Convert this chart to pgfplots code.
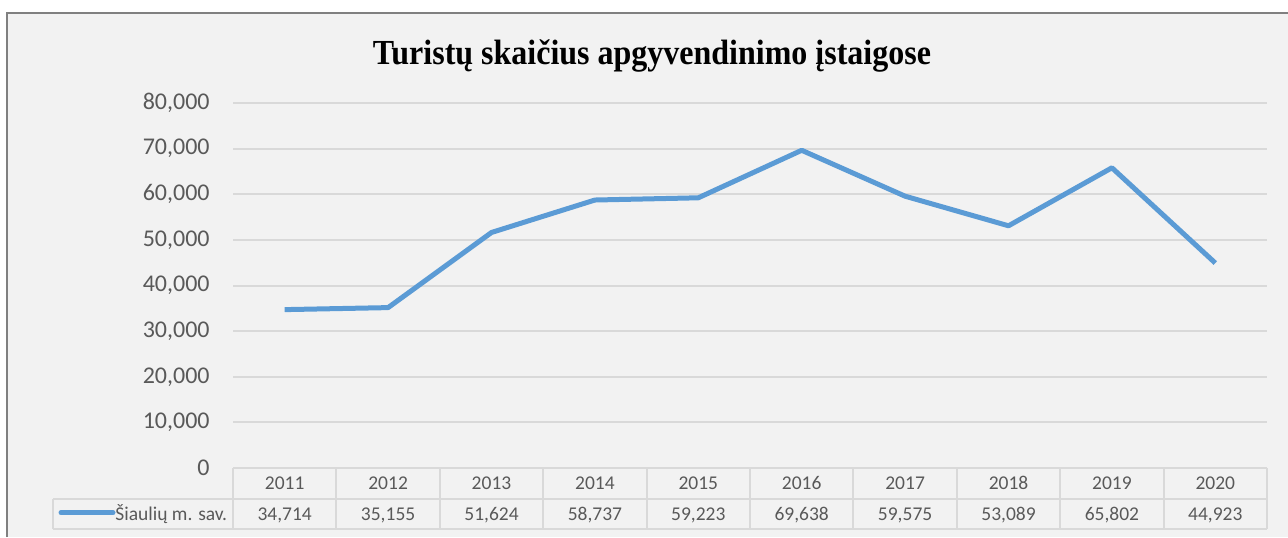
\documentclass[border=0pt]{standalone}
\usepackage{pgfplots}
\pgfplotsset{compat=1.18}
\usepackage{fontspec}
\setmainfont{Carlito}
\newfontfamily\titlefont{Liberation Serif}
\definecolor{bg}{HTML}{F2F2F2}
\definecolor{gridc}{HTML}{D9D9D9}
\definecolor{txt}{HTML}{595959}
\definecolor{series}{HTML}{5B9BD5}

\begin{document}
\begin{tikzpicture}[x=1pt,y=1pt]
\path[use as bounding box] (0,0) rectangle (644,268.5);
\fill[bg] (3.5,0) rectangle (644,261.75);
\draw[line width=1pt, color=black!50] (3.5,0) -- (3.5,261.75) -- (644,261.75);
% title
\node[font=\titlefont\bfseries\fontsize{16}{19}\selectfont, text=black, yscale=1.1] at (326,240.5) {Turistų skaičius apgyvendinimo įstaigose};
\begin{axis}[
    at={(116.5pt,34.5pt)}, anchor=south west,
    scale only axis, width=517pt, height=182.5pt,
    xmin=0, xmax=10, ymin=0, ymax=80000,
    axis line style={draw=none},
    tick style={draw=none},
    ytick={0,10000,...,80000},
    ymajorgrids,
    grid style={gridc, line width=1pt},
    scaled y ticks=false,
    /pgf/number format/.cd, 1000 sep={,}, assume math mode=true,
    /pgfplots/.cd,
    yticklabel style={font=\fontsize{12}{14}\selectfont, text=txt, inner sep=0pt, anchor=east, xshift=-11.5pt},
    xtick={0.5,1.5,...,9.5},
    xticklabels={2011,2012,2013,2014,2015,2016,2017,2018,2019,2020},
    xticklabel style={font=\fontsize{9.75}{12}\selectfont, text=txt, inner sep=0pt, anchor=base, yshift=-10.5pt},
    clip=false,
]
% Šiaulių m. sav.
\addplot[series, line width=2.5pt, line join=round] coordinates {
    (0.5,34714) (1.5,35155) (2.5,51624) (3.5,58737) (4.5,59223)
    (5.5,69638) (6.5,59575) (7.5,53089) (8.5,65802) (9.5,44923)
};
\end{axis}
% data table
\draw[gridc, line width=1pt] (116.5,34.5) -- (633.5,34.5);
\draw[gridc, line width=1pt] (26.5,19.25) -- (633.5,19.25);
\draw[gridc, line width=1pt] (26.5,4) -- (633.5,4);
\draw[gridc, line width=1pt] (26.5,4) -- (26.5,19.25);
\foreach \k in {0,...,10} {
    \draw[gridc, line width=1pt] (116.5+\k*51.7,4) -- (116.5+\k*51.7,34.5);
}
\foreach \v [count=\i from 0] in {{34,714},{35,155},{51,624},{58,737},{59,223},{69,638},{59,575},{53,089},{65,802},{44,923}} {
    \node[font=\fontsize{9.75}{12}\selectfont, text=txt, inner sep=0pt, anchor=base] at (116.5+\i*51.7+25.85,8.5) {\v};
}
\draw[series, line width=2.5pt, line cap=round] (30.5,12.2) -- (56.5,12.2);
\node[font=\fontsize{9.75}{12}\selectfont, text=txt, inner sep=0pt, anchor=base west] at (57.5,8.5) {Šiaulių m. sav.};
\end{tikzpicture}
\end{document}
